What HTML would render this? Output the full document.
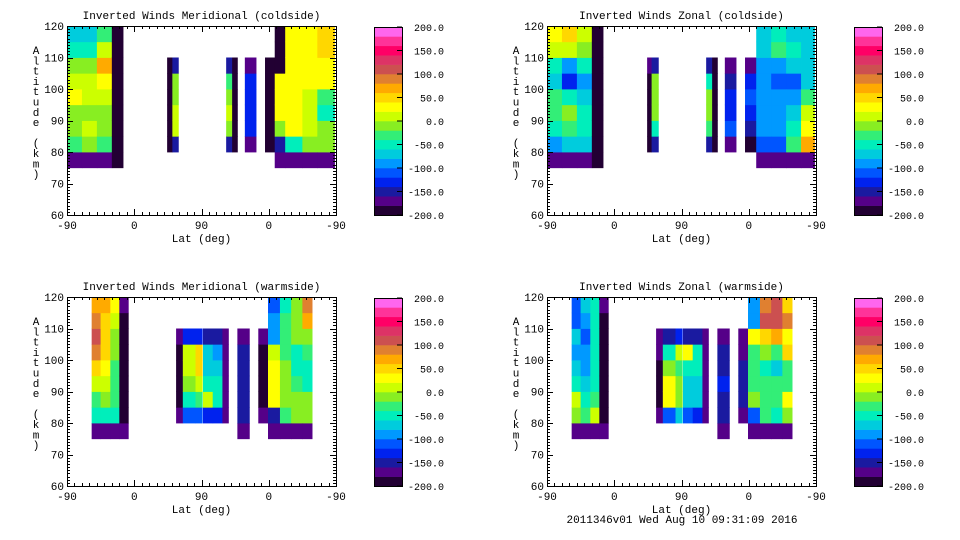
<!DOCTYPE html>
<html><head><meta charset="utf-8">
<style>
html,body{margin:0;padding:0;background:#fff;}
svg{display:block;font-family:"Liberation Mono","DejaVu Sans Mono",monospace;}
</style></head>
<body>
<svg id="fig" width="960" height="540" viewBox="0 0 960 540"></svg>
<script>
// ---- data ----
const xTickVals = [0, 90, 180, 270, 360];
const xTickLabels = ["-90", "0", "90", "0", "-90"];
const yTickVals = [60, 70, 80, 90, 100, 110, 120];
const cbarTickVals = [200, 150, 100, 50, 0, -50, -100, -150, -200];
const cbarTickLabels = ["200.0", "150.0", "100.0", "50.0", "0.0", "-50.0", "-100.0", "-150.0", "-200.0"];
const levels = [-200,-180,-160,-140,-120,-100,-80,-60,-40,-20,0,20,40,60,80,100,120,140,160,180,200];
const levelColors = ["#220033","#550088","#1a1aa0","#0022ee","#0055ff","#0099ff","#00ccdd","#00eebb","#33ee77","#88ee22","#ccff00","#ffff00","#ffd700","#ffaa00","#e08030","#cc5050","#dd3366","#ff0066","#ff3399","#ff66ee"];
const altRows = [75, 80, 85, 90, 95, 100, 105, 110, 115]; // row bottoms, 5 km tall
const titles = ["Inverted Winds Meridional (coldside)", "Inverted Winds Zonal (coldside)", "Inverted Winds Meridional (warmside)", "Inverted Winds Zonal (warmside)"];
const N = null;
const meridCold = [
 [0,20,[-170,-30,-10,-10,20,0,-10,-60,-80]],
 [20,40,[-170,-20,0,-10,10,0,-20,-50,-70]],
 [40,60,[-170,-30,-20,-10,10,30,60,10,-40]],
 [60,75,[-200,-200,-200,-200,-200,-200,-200,-200,-200]],
 [134,141,[N,-190,-200,-200,-200,-200,-190,N,N]],
 [141,149,[N,-150,0,0,-20,-10,-150,N,N]],
 [213,221,[N,-150,-10,0,-20,-40,-150,N,N]],
 [221,228,[N,-200,-200,-200,-200,-200,-200,N,N]],
 [238,253,[N,-170,-140,-140,-140,-140,-170,N,N]],
 [265,278,[N,-200,-200,-200,-200,-200,-200,N,N]],
 [278,292,[-170,-150,-10,20,30,30,-200,-200,-200]],
 [292,315,[-170,-50,20,30,30,30,30,30,30]],
 [315,335,[-170,-20,10,10,0,30,30,20,30]],
 [335,358,[-170,-20,-20,-60,-30,20,20,40,50]]
];
const zonalCold = [
 [0,20,[-170,-90,-50,-40,-40,-70,-50,0,20]],
 [20,40,[-170,-80,-40,-20,-60,-140,-100,10,40]],
 [40,60,[-170,-80,-50,-50,-70,-90,-60,-20,10]],
 [60,75,[-200,-200,-200,-200,-200,-200,-200,-200,-200]],
 [134,140,[N,-200,-200,-200,-200,-200,-180,N,N]],
 [140,149,[N,-150,-50,-20,-10,-20,-150,N,N]],
 [213,221,[N,-150,-30,-20,-20,-60,-150,N,N]],
 [221,228,[N,-200,-200,-200,-200,-200,-200,N,N]],
 [238,253,[N,-170,-120,-140,-140,-160,-170,N,N]],
 [265,280,[N,-190,-150,-130,-120,-130,-170,N,N]],
 [280,300,[-170,-120,-100,-100,-100,-100,-100,-70,-80]],
 [300,320,[-170,-110,-100,-100,-100,-110,-100,-40,-60]],
 [320,340,[-170,-40,-60,-80,-100,-110,-80,-60,-70]],
 [340,358,[-170,60,30,10,-40,-80,-80,-70,-80]]
];
const meridWarm = [
 [33,45,[-170,-60,-30,0,40,80,100,80,60]],
 [45,58,[-170,-50,-20,10,30,50,40,50,60]],
 [58,70,[-170,-60,-40,-30,-30,-10,-20,0,20]],
 [70,82,[-170,-200,-200,-200,-200,-200,-200,-190,-170]],
 [146,155,[N,-180,-200,-200,-200,-200,-180,N,N]],
 [155,172,[N,-110,-50,-10,0,0,-130,N,N]],
 [172,181,[N,-110,-40,0,40,50,-130,N,N]],
 [182,195,[N,-130,0,-50,-70,-80,-150,N,N]],
 [195,208,[N,-140,-60,-60,-70,-100,-160,N,N]],
 [208,216,[N,-180,-170,-170,-170,-170,-180,N,N]],
 [228,244,[-180,-160,-150,-150,-150,-150,-180,N,N]],
 [256,269,[N,-180,-200,-200,-200,-200,-180,N,N]],
 [269,285,[-180,-160,20,30,30,0,-100,-100,-120]],
 [285,300,[-170,-40,-20,-20,-20,-30,-30,-30,-60]],
 [300,315,[-170,-20,-20,-40,-50,-60,-20,-10,-20]],
 [315,328,[-170,-20,-10,-50,-60,-40,-10,60,90]]
];
const zonalWarm = [
 [33,45,[-170,-10,0,-60,-80,-90,-80,-120,-110]],
 [45,58,[-170,-30,-50,-80,-90,-100,-110,-90,-80]],
 [58,70,[-170,0,-30,-60,-60,-60,-50,-60,-50]],
 [70,82,[-170,-200,-200,-200,-200,-200,-200,-190,-170]],
 [146,155,[N,-180,-200,-200,-200,-180,-180,N,N]],
 [155,172,[N,-110,20,30,-20,-50,-150,N,N]],
 [172,181,[N,-80,-20,-10,-40,0,-140,N,N]],
 [182,195,[N,-120,-70,-80,-60,30,-150,N,N]],
 [195,208,[N,-140,-70,-80,-60,-60,-150,N,N]],
 [208,216,[N,-180,-180,-180,-180,-180,-180,N,N]],
 [228,244,[-180,-160,-150,-140,-150,-160,-180,N,N]],
 [256,269,[N,-170,-160,-150,-160,-180,-180,N,N]],
 [269,285,[-180,-120,-20,-40,-40,-40,20,-100,-90]],
 [285,300,[-170,-40,-30,-40,-50,-20,50,100,90]],
 [300,315,[-170,-60,-30,-40,-80,-30,70,110,110]],
 [315,328,[-170,-10,20,-30,-40,40,30,80,50]]
];
const panelData = [meridCold, zonalCold, meridWarm, zonalWarm];

// ---- drawing ----
const NS = "http://www.w3.org/2000/svg";
const svg = document.getElementById("fig");
function mk(tag, attrs, parent) {
  const e = document.createElementNS(NS, tag);
  for (const k in attrs) e.setAttribute(k, attrs[k]);
  (parent || svg).appendChild(e);
  return e;
}
function colorFor(v) {
  for (let i = 0; i < levelColors.length; i++) if (v < levels[i + 1]) return levelColors[i];
  return levelColors[levelColors.length - 1];
}
const panelPos = [[67, 26], [547, 26], [67, 297], [547, 297]];
const PW = 269, PH = 189;
const panelNames = ["meridional-coldside", "zonal-coldside", "meridional-warmside", "zonal-warmside"];

panelPos.forEach((p, pi) => {
  const [ox, oy] = p;
  const xs = t => ox + t * PW / 360;
  const ys = a => oy + PH - (a - 60) * PH / 60;
  const g = mk("g", {});
  
  
  const title = mk("text", {x: ox + PW / 2, y: oy - 7, "text-anchor": "middle", "font-size": 11, fill: "#000"}, g);
  title.textContent = titles[pi];
  
  
  const cg = mk("g", {}, g);
  
  
  panelData[pi].forEach(col => {
    const [t0, t1, vals] = col;
    vals.forEach((v, ri) => {
      if (v === null) return;
      const a0 = altRows[ri], a1 = a0 + 5;
      const r = mk("rect", {x: xs(t0), y: ys(a1), width: xs(t1) - xs(t0) + 0.4, height: ys(a0) - ys(a1) + 0.4, fill: colorFor(v)}, cg);
      
      
    });
  });
  const fr = mk("rect", {x: ox + 0.5, y: oy + 0.5, width: PW, height: PH, fill: "none", stroke: "#000", "stroke-width": 1}, g);
  
  
  for (let a = 60; a <= 120; a++) {
    const major = a % 10 === 0;
    const len = major ? 6 : 3;
    const y = Math.round(ys(a)) + 0.5;
    mk("line", {x1: ox, x2: ox + len, y1: y, y2: y, stroke: "#000", "stroke-width": 1}, g);
    mk("line", {x1: ox + PW, x2: ox + PW - len, y1: y, y2: y, stroke: "#000", "stroke-width": 1}, g);
  }
  yTickVals.forEach(v => {
    const t = mk("text", {x: ox - 3, y: ys(v) + 4, "text-anchor": "end", "font-size": 11, fill: "#000"}, g);
    t.textContent = String(v);
    
    
  });
  for (let t = 0; t <= 360; t += 10) {
    const major = t % 90 === 0;
    const len = major ? 6 : 3;
    const x = Math.round(xs(t)) + 0.5;
    mk("line", {x1: x, x2: x, y1: oy + PH, y2: oy + PH - len, stroke: "#000", "stroke-width": 1}, g);
    mk("line", {x1: x, x2: x, y1: oy, y2: oy + len, stroke: "#000", "stroke-width": 1}, g);
  }
  xTickVals.forEach((v, i) => {
    const t = mk("text", {x: xs(v), y: oy + PH + 14, "text-anchor": "middle", "font-size": 11, fill: "#000"}, g);
    t.textContent = xTickLabels[i];
    
    
  });
  const xl = mk("text", {x: ox + PW / 2, y: oy + PH + 27, "text-anchor": "middle", "font-size": 11, fill: "#000"}, g);
  xl.textContent = "Lat (deg)";
  
  
  const yl = mk("text", {x: ox - 31, y: oy + 27, "text-anchor": "middle", "font-size": 11, fill: "#000"}, g);
  
  
  "Altitude (km)".split("").forEach((ch, i) => {
    const ts = mk("tspan", {x: ox - 31, y: oy + 28 + i * 10.3}, yl);
    ts.textContent = ch === " " ? "\u00a0" : ch;
  });
  const cx = ox + 307, cy = oy + 1, cw = 28, ch = 188;
  const cb = mk("g", {}, g);
  
  
  const cbY = v => cy + ch - (v + 200) * ch / 400;
  levelColors.forEach((c, i) => {
    const r = mk("rect", {x: cx, y: cbY(levels[i + 1]), width: cw, height: cbY(levels[i]) - cbY(levels[i + 1]) + 0.3, fill: c}, cb);
    
    
  });
  mk("rect", {x: cx + 0.5, y: cy + 0.5, width: cw, height: ch, fill: "none", stroke: "#000"}, cb);
  cbarTickVals.forEach((v, i) => {
    const y = cbY(v);
    mk("line", {x1: cx + cw - 5, x2: cx + cw, y1: y, y2: y, stroke: "#000"}, cb);
    const t = mk("text", {x: cx + 70, y: y + 4, "text-anchor": "end", "font-size": 10, fill: "#000"}, cb);
    t.textContent = cbarTickLabels[i];
    
    
  });
});
const foot = mk("text", {x: 682, y: 523, "text-anchor": "middle", "font-size": 11, fill: "#000"});
foot.textContent = "2011346v01 Wed Aug 10 09:31:09 2016";


</script>
</body></html>
